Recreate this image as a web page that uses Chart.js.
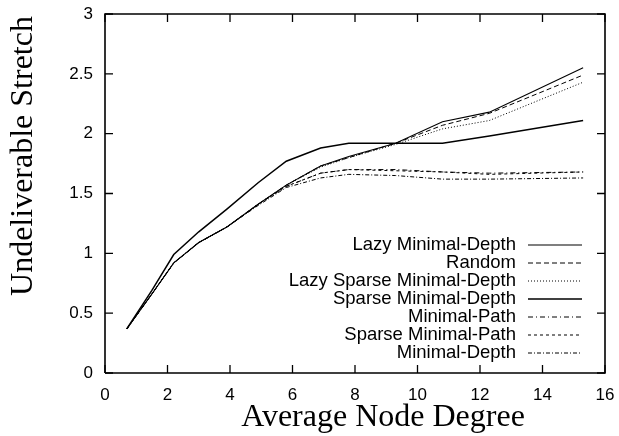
<!DOCTYPE html>
<html>
<head>
<meta charset="utf-8">
<script src="https://cdn.jsdelivr.net/npm/chart.js@4.4.1/dist/chart.umd.min.js"></script>
<style>
  html, body { margin: 0; padding: 0; background: #fff; }
  #wrap { width: 619px; height: 436px; }
</style>
</head>
<body>
<div id="wrap"><canvas id="stretchChart" width="619" height="436"></canvas></div>
<script>
// average node degree (x)
var degrees = [0.7, 1.5, 2.2, 3.0, 3.9, 4.9, 5.8, 6.9, 7.8, 9.3, 10.8, 12.3, 15.3];

// undeliverable stretch per strategy
var lazyMinimalDepth       = [0.37, 0.66, 0.92, 1.09, 1.22, 1.41, 1.57, 1.73, 1.81, 1.92, 2.10, 2.18, 2.55];
var random                 = [0.37, 0.66, 0.92, 1.09, 1.22, 1.41, 1.57, 1.73, 1.80, 1.92, 2.07, 2.17, 2.49];
var lazySparseMinimalDepth = [0.37, 0.66, 0.92, 1.09, 1.22, 1.41, 1.57, 1.72, 1.80, 1.91, 2.04, 2.11, 2.43];
var sparseMinimalDepth     = [0.37, 0.69, 0.99, 1.18, 1.37, 1.59, 1.77, 1.88, 1.92, 1.92, 1.92, 1.98, 2.11];
var minimalPath            = [0.37, 0.66, 0.92, 1.09, 1.22, 1.41, 1.56, 1.67, 1.70, 1.70, 1.68, 1.67, 1.68];
var sparseMinimalPath      = [0.37, 0.66, 0.92, 1.09, 1.22, 1.41, 1.56, 1.67, 1.70, 1.69, 1.68, 1.66, 1.68];
var minimalDepth           = [0.37, 0.66, 0.92, 1.09, 1.22, 1.40, 1.55, 1.63, 1.66, 1.65, 1.62, 1.62, 1.63];

var xTicks = [0, 2, 4, 6, 8, 10, 12, 14, 16];
var yTicks = [0, 0.5, 1, 1.5, 2, 2.5, 3];

var xMin = xTicks[0], xMax = xTicks[xTicks.length - 1];
var yMin = yTicks[0], yMax = yTicks[yTicks.length - 1];

function pts(values) {
    return values.map(function (v, i) { return { x: degrees[i], y: v }; });
}

var series = [
    { label: 'Lazy Minimal-Depth',        data: lazyMinimalDepth,       dash: [],           width: 1.1 },
    { label: 'Random',                    data: random,                 dash: [5, 3],       width: 1 },
    { label: 'Lazy Sparse Minimal-Depth', data: lazySparseMinimalDepth, dash: [1, 2],       width: 1 },
    { label: 'Sparse Minimal-Depth',      data: sparseMinimalDepth,     dash: [],           width: 1.5 },
    { label: 'Minimal-Path',              data: minimalPath,            dash: [5, 3, 1, 3], width: 1 },
    { label: 'Sparse Minimal-Path',       data: sparseMinimalPath,      dash: [3, 3],       width: 1 },
    { label: 'Minimal-Depth',             data: minimalDepth,           dash: [4, 2, 1, 2], width: 1 }
];

var datasets = series.map(function (s) {
    return {
        label: s.label,
        data: pts(s.data),
        borderColor: '#000',
        borderWidth: s.width,
        borderDash: s.dash,
        pointRadius: 0,
        fill: false,
        tension: 0
    };
});

// gnuplot style box around the plot, drawn through the scales
var boxPoints = [
    { x: xMin, y: yMin }, { x: xMax, y: yMin }, { x: xMax, y: yMax },
    { x: xMin, y: yMax }, { x: xMin, y: yMin }
];

// inward tick marks, 8px long: convert to data units of each axis
var xTickLen = (yMax - yMin) * 8 / 359;
var yTickLen = (xMax - xMin) * 8 / 500;
var tickPoints = [];
xTicks.forEach(function (t) {
    tickPoints.push({ x: t, y: yMin }, { x: t, y: yMin + xTickLen }, { x: t, y: null });
    tickPoints.push({ x: t, y: yMax }, { x: t, y: yMax - xTickLen }, { x: t, y: null });
});
yTicks.forEach(function (v) {
    tickPoints.push({ x: xMin, y: v }, { x: xMin + yTickLen, y: v }, { x: xMin, y: null });
    tickPoints.push({ x: xMax, y: v }, { x: xMax - yTickLen, y: v }, { x: xMax, y: null });
});

datasets.push({
    label: 'frame',
    data: boxPoints,
    borderColor: '#000',
    borderWidth: 1.6,
    pointRadius: 0,
    fill: false,
    tension: 0,
    clip: false
});
datasets.push({
    label: 'ticks',
    data: tickPoints,
    borderColor: '#000',
    borderWidth: 1.3,
    pointRadius: 0,
    fill: false,
    tension: 0,
    spanGaps: false,
    clip: false
});

// axis titles and gnuplot-like legend
var gnuplotText = {
    id: 'gnuplotText',
    afterDraw: function (chart) {
        var ctx = chart.ctx;
        ctx.save();
        ctx.fillStyle = '#000';
        ctx.strokeStyle = '#000';
        ctx.font = '32px "Liberation Serif"';
        ctx.textAlign = 'center';
        ctx.textBaseline = 'middle';
        ctx.fillText('Average Node Degree', 383, 418);
        ctx.save();
        ctx.translate(24, 156);
        ctx.rotate(-Math.PI / 2);
        ctx.fillText('Undeliverable Stretch', 0, 0);
        ctx.restore();

        ctx.font = '18.5px "Liberation Sans"';
        ctx.textAlign = 'right';
        series.forEach(function (s, i) {
            var y = 245 + i * 18;
            ctx.fillText(s.label, 516, y);
            ctx.beginPath();
            ctx.lineWidth = s.width;
            ctx.setLineDash(s.dash);
            ctx.moveTo(528, y);
            ctx.lineTo(582, y);
            ctx.stroke();
        });
        ctx.restore();
    }
};

new Chart(document.getElementById('stretchChart').getContext('2d'), {
    type: 'line',
    data: { datasets: datasets },
    plugins: [gnuplotText],
    options: {
        responsive: false,
        animation: false,
        layout: { padding: { top: 14, right: 14, left: 0, bottom: 0 } },
        plugins: {
            legend: { display: false },
            tooltip: { enabled: false }
        },
        scales: {
            x: {
                type: 'linear',
                min: xMin,
                max: xMax,
                afterBuildTicks: function (s) { s.ticks = xTicks.map(function (v) { return { value: v }; }); },
                afterFit: function (s) { s.height = 63; s.paddingLeft = 0; s.paddingRight = 0; },
                grid: { display: false, drawTicks: false },
                border: { display: false },
                ticks: {
                    color: '#000',
                    padding: 12,
                    maxRotation: 0,
                    callback: function (v) { return String(v); },
                    font: { family: 'Liberation Sans', size: 17 }
                }
            },
            y: {
                type: 'linear',
                min: yMin,
                max: yMax,
                afterBuildTicks: function (s) { s.ticks = yTicks.map(function (v) { return { value: v }; }); },
                afterFit: function (s) { s.width = 105; s.paddingTop = 0; s.paddingBottom = 0; },
                grid: { display: false, drawTicks: false },
                border: { display: false },
                ticks: {
                    color: '#000',
                    padding: 12,
                    callback: function (v) { return String(v); },
                    font: { family: 'Liberation Sans', size: 17 }
                }
            }
        }
    }
});
</script>
</body>
</html>
